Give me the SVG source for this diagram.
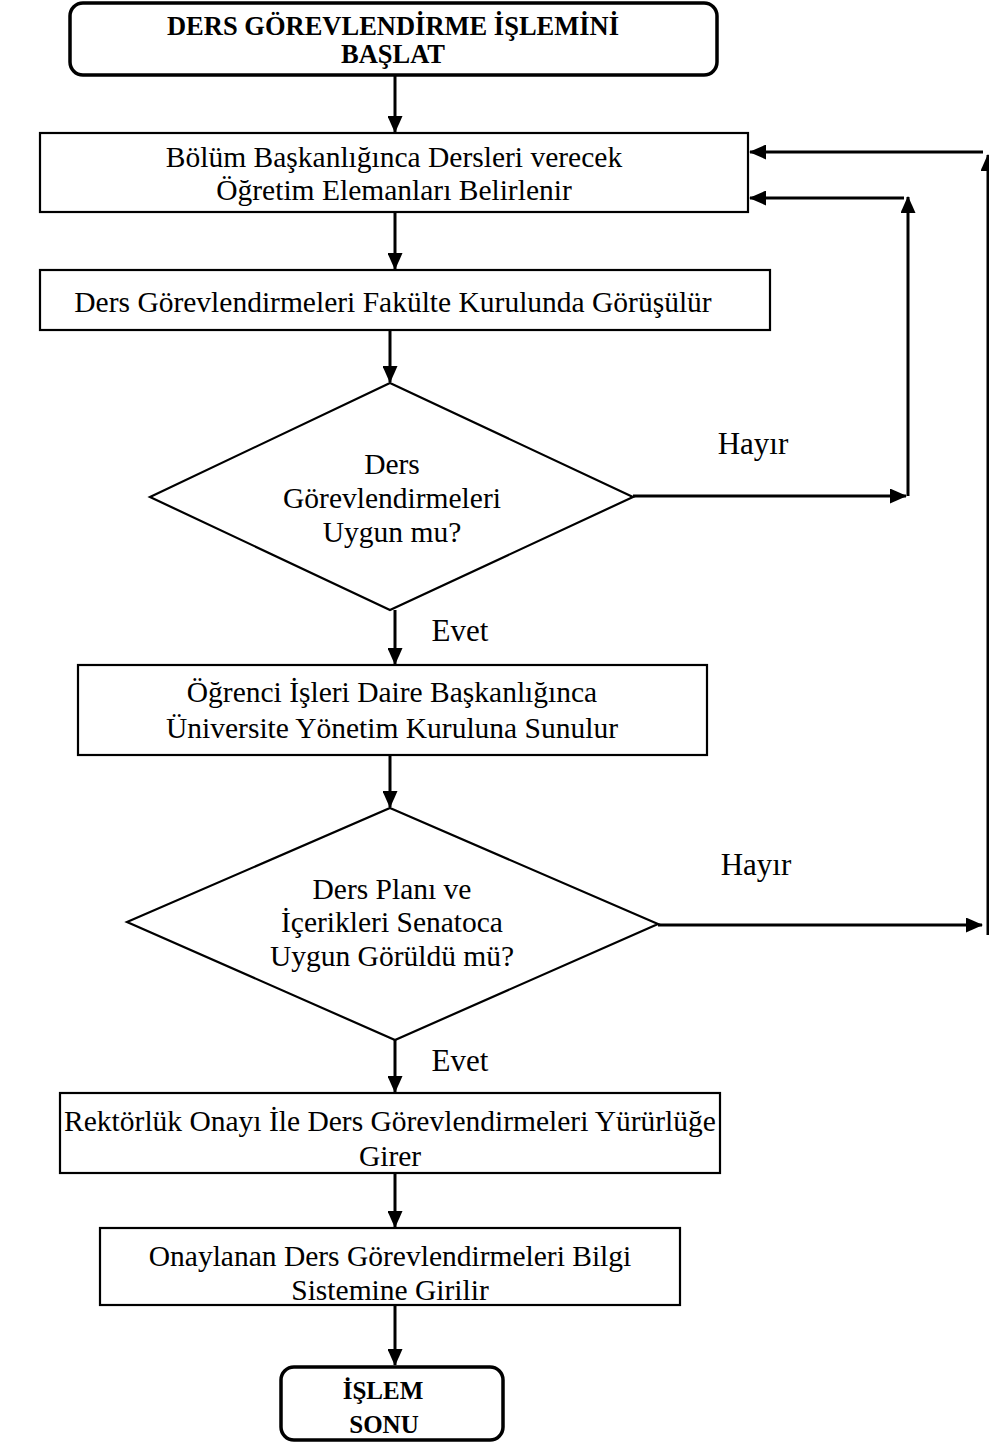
<svg xmlns="http://www.w3.org/2000/svg" width="989" height="1443" viewBox="0 0 989 1443">
  <style>
    .term { fill: #fff; stroke: #000; stroke-width: 3.5; }
    .box { fill: #fff; stroke: #000; stroke-width: 2.2; }
    .dec { fill: #fff; stroke: #000; stroke-width: 2.2; }
    .lbl { font-family: "Liberation Serif", "Times New Roman", serif; font-size: 29.5px; fill: #000; text-anchor: middle; }
    .bold { font-family: "Liberation Serif", "Times New Roman", serif; font-weight: bold; fill: #000; text-anchor: middle; }
    .edge { font-family: "Liberation Serif", "Times New Roman", serif; font-size: 31px; fill: #000; text-anchor: middle; }
    .wire { fill: none; stroke: #000; stroke-width: 3; }
  </style>
  <defs>
    <!-- solid triangular arrowhead, tip at the end of the line -->
    <marker id="head" viewBox="0 0 17 15" refX="16" refY="7.5" markerWidth="17" markerHeight="15" orient="auto" markerUnits="userSpaceOnUse">
      <path d="M0,0 L17,7.5 L0,15 Z" fill="#000"/>
    </marker>
  </defs>
  <rect width="989" height="1443" fill="#fff"/>

  <!-- connectors -->
  <g id="connectors">
    <path class="wire" d="M395,75 V132" marker-end="url(#head)"/>
    <path class="wire" d="M395,212 V269" marker-end="url(#head)"/>
    <path class="wire" d="M390,330 V382" marker-end="url(#head)"/>
    <path class="wire" d="M395,610 V664" marker-end="url(#head)"/>
    <path class="wire" d="M390,755 V807" marker-end="url(#head)"/>
    <path class="wire" d="M395,1040 V1092" marker-end="url(#head)"/>
    <path class="wire" d="M395,1173 V1227" marker-end="url(#head)"/>
    <path class="wire" d="M395,1305 V1365" marker-end="url(#head)"/>
    <!-- first "Hayır" loop back -->
    <path class="wire" d="M633,496 H906" marker-end="url(#head)"/>
    <path class="wire" d="M908,496 V197" marker-end="url(#head)"/>
    <path class="wire" d="M904,198 H750" marker-end="url(#head)"/>
    <!-- second "Hayır" loop back -->
    <path class="wire" d="M658,925 H982" marker-end="url(#head)"/>
    <path class="wire" d="M988,935 V155" marker-end="url(#head)"/>
    <path class="wire" d="M983,152 H750" marker-end="url(#head)"/>
    <text class="edge" x="753" y="454">Hayır</text>
    <text class="edge" x="460" y="641">Evet</text>
    <text class="edge" x="756" y="875">Hayır</text>
    <text class="edge" x="460" y="1071">Evet</text>
  </g>

  <g id="start">
    <rect class="term" x="70" y="3" width="647" height="72" rx="13"/>
    <text class="bold" x="393" y="35" font-size="26.5">DERS GÖREVLENDİRME İŞLEMİNİ</text>
    <text class="bold" x="393" y="63" font-size="26.5">BAŞLAT</text>
  </g>

  <g id="assign">
    <rect class="box" x="40" y="133" width="708" height="79"/>
    <text class="lbl" x="394" y="167">Bölüm Başkanlığınca Dersleri verecek</text>
    <text class="lbl" x="394" y="200">Öğretim Elemanları Belirlenir</text>
  </g>

  <g id="faculty">
    <rect class="box" x="40" y="270" width="730" height="60"/>
    <text class="lbl" x="393" y="312">Ders Görevlendirmeleri Fakülte Kurulunda Görüşülür</text>
  </g>

  <g id="check1">
    <polygon class="dec" points="390,383 633,497 390,610 150,497"/>
    <text class="lbl" x="392" y="474">Ders</text>
    <text class="lbl" x="392" y="508">Görevlendirmeleri</text>
    <text class="lbl" x="392" y="542">Uygun mu?</text>
  </g>

  <g id="student-affairs">
    <rect class="box" x="78" y="665" width="629" height="90"/>
    <text class="lbl" x="392" y="702">Öğrenci İşleri Daire Başkanlığınca</text>
    <text class="lbl" x="392" y="738">Üniversite Yönetim Kuruluna Sunulur</text>
  </g>

  <g id="check2">
    <polygon class="dec" points="390,808 658,924 395,1040 127,922"/>
    <text class="lbl" x="392" y="899">Ders Planı ve</text>
    <text class="lbl" x="392" y="932">İçerikleri Senatoca</text>
    <text class="lbl" x="392" y="966">Uygun Görüldü mü?</text>
  </g>

  <g id="rectorate">
    <rect class="box" x="60" y="1093" width="660" height="80"/>
    <text class="lbl" x="390" y="1131">Rektörlük Onayı İle Ders Görevlendirmeleri Yürürlüğe</text>
    <text class="lbl" x="390" y="1166">Girer</text>
  </g>

  <g id="system-entry">
    <rect class="box" x="100" y="1228" width="580" height="77"/>
    <text class="lbl" x="390" y="1266">Onaylanan Ders Görevlendirmeleri Bilgi</text>
    <text class="lbl" x="390" y="1300">Sistemine Girilir</text>
  </g>

  <g id="end">
    <rect class="term" x="281" y="1367" width="222" height="73" rx="13"/>
    <text class="bold" x="383" y="1399" font-size="25">İŞLEM</text>
    <text class="bold" x="384" y="1433" font-size="25">SONU</text>
  </g>
</svg>
